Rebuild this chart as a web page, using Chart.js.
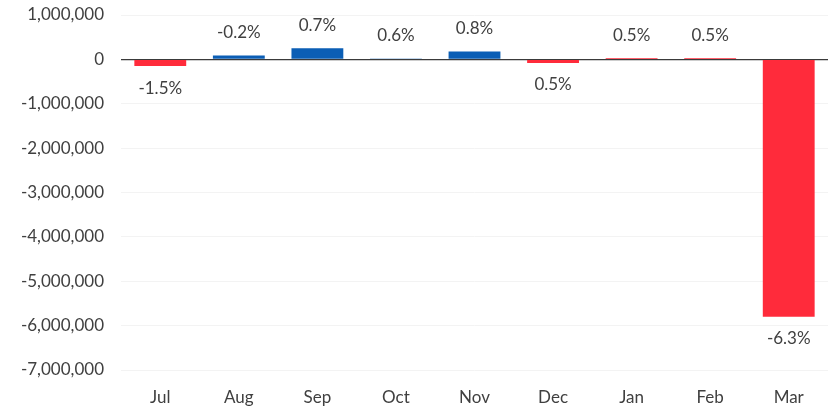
<!DOCTYPE html>
<html>
<head>
<meta charset="utf-8">
<script src="https://cdn.jsdelivr.net/npm/chart.js@4"></script>
<style>
  html, body { margin: 0; padding: 0; background: #fff; }
  #wrap { width: 833px; height: 411px; }
</style>
</head>
<body>
<div id="wrap"><canvas id="bars"></canvas></div>
<script>
const months = ['Jul', 'Aug', 'Sep', 'Oct', 'Nov', 'Dec', 'Jan', 'Feb', 'Mar'];
const values = [-150000, 90000, 250000, 10000, 180000, -80000, 30000, 30000, -5800000];
const pctLabels = ['-1.5%', '-0.2%', '0.7%', '0.6%', '0.8%', '0.5%', '0.5%', '0.5%', '-6.3%'];
const barColors = ['#ff2b3b', '#0b5eb5', '#0b5eb5', '#0b5eb5', '#0b5eb5', '#ff2b3b', '#ff2b3b', '#ff2b3b', '#ff2b3b'];

const FONT = 'Lato, "Open Sans", sans-serif';

const pctPlugin = {
  id: 'pctLabels',
  afterDatasetsDraw(chart) {
    const c = chart.ctx;
    const meta = chart.getDatasetMeta(0);
    c.save();
    c.font = '17px ' + FONT;
    c.fillStyle = '#404040';
    c.textAlign = 'center';
    c.textBaseline = 'middle';
    meta.data.forEach((bar, i) => {
      const v = values[i];
      const y = v >= 0 ? Math.min(bar.y, bar.base) - 23 : Math.max(bar.y, bar.base) + 22;
      c.fillText(pctLabels[i], bar.x, y);
    });
    c.restore();
  }
};

const ctx = document.getElementById('bars');

new Chart(ctx, {
  type: 'bar',
  data: {
    labels: months,
    datasets: [{
      data: values,
      backgroundColor: barColors,
      borderWidth: 0,
      categoryPercentage: 1,
      barPercentage: 0.66,
    }]
  },
  options: {
    responsive: true,
    maintainAspectRatio: false,
    animation: false,
    layout: {
      padding: { top: 15, right: 5, left: 3, bottom: 0 }
    },
    plugins: {
      legend: { display: false },
      tooltip: { enabled: false }
    },
    scales: {
      x: {
        grid: { display: false },
        border: { display: false },
        ticks: {
          color: '#404040',
          padding: 9,
          font: { family: FONT, size: 17 }
        },
        afterFit: (s) => { s.height = 41; }
      },
      y: {
        min: -7000000,
        max: 1000000,
        ticks: {
          stepSize: 1000000,
          color: '#404040',
          padding: 17,
          font: { family: FONT, size: 17 },
          callback: (v) => v.toLocaleString('en-US')
        },
        border: { display: false },
        grid: {
          drawTicks: false,
          color: (c) => c.tick && c.tick.value === 0 ? '#3a3a3a' : '#f3f3f3',
          lineWidth: (c) => c.tick && c.tick.value === 0 ? 1.2 : 1
        },
        afterFit: (s) => { s.width = 118; s.paddingTop = 0; s.paddingBottom = 0; }
      }
    }
  },
  plugins: [pctPlugin]
});
</script>
</body>
</html>
